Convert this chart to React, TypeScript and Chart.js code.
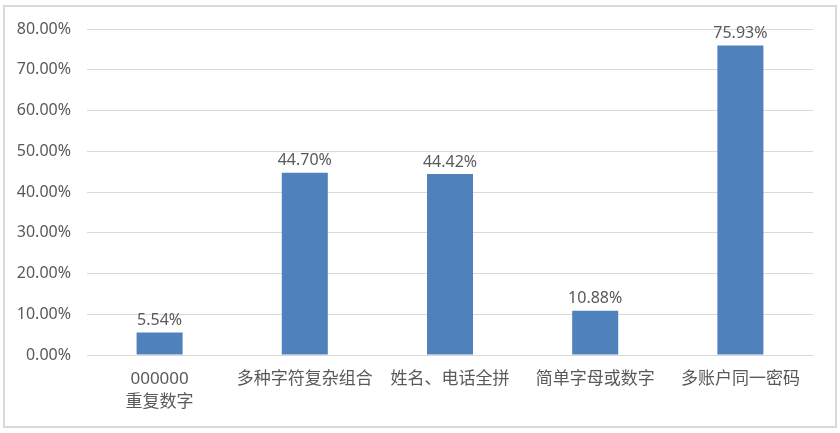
import { useEffect, useRef } from 'react';
import { Chart, ChartConfiguration, registerables, Plugin } from 'chart.js';

Chart.register(...registerables);

const categories: (string | string[])[] = [
  ['000000', '重复数字'],
  '多种字符复杂组合',
  '姓名、电话全拼',
  '简单字母或数字',
  '多账户同一密码',
];
const percentValues = [5.54, 44.7, 44.42, 10.88, 75.93];
const yTicks = [0, 10, 20, 30, 40, 50, 60, 70, 80];

const FONT = '"Noto Sans", "Noto Sans CJK SC", sans-serif';
const TEXT = '#595959';

// draws the value above each bar
const valueLabels: Plugin<'bar'> = {
  id: 'valueLabels',
  afterDatasetsDraw(chart) {
    const ctx = chart.ctx;
    const meta = chart.getDatasetMeta(0);
    ctx.save();
    ctx.font = `16px ${FONT}`;
    ctx.fillStyle = TEXT;
    ctx.textAlign = 'center';
    ctx.textBaseline = 'bottom';
    meta.data.forEach((bar, i) => {
      ctx.fillText(percentValues[i].toFixed(2) + '%', bar.x, bar.y - 4);
    });
    ctx.restore();
  },
};

export default function App() {
  const chartRef = useRef<HTMLCanvasElement>(null);
  const chartInstance = useRef<Chart | null>(null);

  useEffect(() => {
    if (!chartRef.current) return;
    const ctx = chartRef.current.getContext('2d');
    if (!ctx) return;

    if (chartInstance.current) {
      chartInstance.current.destroy();
    }

    const config: ChartConfiguration<'bar'> = {
      type: 'bar',
      data: {
        labels: categories,
        datasets: [
          {
            data: percentValues,
            backgroundColor: '#4f81bd',
            borderWidth: 0,
            categoryPercentage: 1,
            barPercentage: 0.317,
          },
        ],
      },
      options: {
        animation: false,
        responsive: false,
        maintainAspectRatio: false,
        layout: { padding: { top: 29, right: 27, left: 0, bottom: 0 } },
        plugins: {
          legend: { display: false },
          tooltip: { enabled: false },
        },
        scales: {
          x: {
            grid: { display: false, drawTicks: false },
            border: { display: true, color: '#d9d9d9', width: 1 },
            ticks: {
              color: TEXT,
              font: { family: FONT, size: 17, lineHeight: 1.35 },
              padding: 13,
              maxRotation: 0,
              autoSkip: false,
            },
            afterFit(scale) {
              scale.height = 78;
            },
          },
          y: {
            min: 0,
            max: 80,
            afterBuildTicks(scale) {
              scale.ticks = yTicks.map((v) => ({ value: v }));
            },
            grid: { color: '#d9d9d9', drawTicks: false },
            border: { display: false },
            ticks: {
              color: TEXT,
              font: { family: FONT, size: 16 },
              padding: 16,
              callback: (v) => Number(v).toFixed(2) + '%',
            },
            afterFit(scale) {
              scale.width = 87;
            },
          },
        },
      },
      plugins: [valueLabels],
    };

    chartInstance.current = new Chart(ctx, config);

    return () => {
      if (chartInstance.current) {
        chartInstance.current.destroy();
        chartInstance.current = null;
      }
    };
  }, []);

  return (
    <div style={{ position: 'fixed', left: 0, top: 0, width: 840, height: 433, background: '#fff' }}>
      <div
        style={{
          position: 'absolute',
          left: 3,
          top: 5,
          width: 830,
          height: 419,
          border: '2px solid #d9d9d9',
        }}
      />
      <canvas
        ref={chartRef}
        width={840}
        height={433}
        style={{ position: 'absolute', left: 0, top: 0, width: 840, height: 433 }}
      ></canvas>
    </div>
  );
}
